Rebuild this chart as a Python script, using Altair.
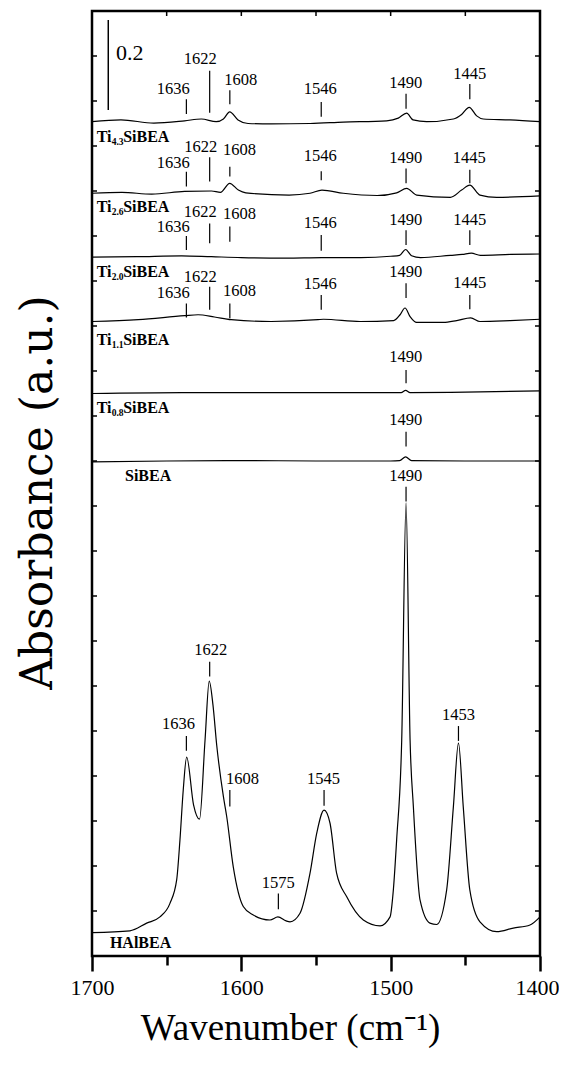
import altair as alt
import pandas as pd

# ---------------- spectra (wavenumber cm-1, absorbance above own baseline) ----------------
WN_HALBEA = [1700, 1674.6, 1663.4, 1654.5, 1647.8, 1643.3, 1641.1, 1638.9, 1636.6, 1632, 1628,
             1624.3, 1621.5, 1619, 1616.5, 1612, 1609.8, 1605.4, 1598.7, 1592, 1580.8, 1575.5,
             1570, 1567.4, 1560.7, 1554, 1549.5, 1544.6, 1540.6, 1536.2, 1529.5, 1518.3, 1507.1,
             1500.4, 1498.2, 1496, 1492.6, 1489.7, 1487, 1484.8, 1480.3, 1473.7, 1469.2, 1462.5,
             1458, 1454.6, 1451.4, 1447, 1440.2, 1429, 1417.9, 1406.7, 1400]
AB_HALBEA = [0.052, 0.056, 0.073, 0.087, 0.117, 0.169, 0.258, 0.369, 0.442, 0.336, 0.304,
             0.480, 0.611, 0.558, 0.469, 0.354, 0.310, 0.198, 0.110, 0.091, 0.080, 0.087,
             0.078, 0.076, 0.095, 0.184, 0.273, 0.324, 0.295, 0.184, 0.132, 0.080, 0.067,
             0.087, 0.147, 0.258, 0.480, 1.007, 0.480, 0.332, 0.124, 0.073, 0.070, 0.147,
             0.332, 0.473, 0.332, 0.147, 0.076, 0.054, 0.062, 0.069, 0.087]

WN_SIBEA = [1700, 1650, 1600, 1550, 1500, 1494, 1490, 1486, 1450, 1400]
AB_SIBEA = [0.000, 0.002, 0.003, 0.002, 0.002, 0.003, 0.011, 0.003, 0.002, 0.002]

WN_TI08 = [1700, 1640, 1580, 1500, 1493, 1490, 1487, 1450, 1400]
AB_TI08 = [0.000, 0.002, 0.002, 0.002, 0.002, 0.007, 0.002, 0.003, 0.006]

WN_TI11 = [1700, 1669, 1638, 1629, 1618, 1606.7, 1580, 1548.7, 1545, 1520.5, 1498, 1493.7,
           1490.4, 1487, 1482.6, 1464.7, 1455.8, 1446.4, 1440.2, 1420, 1400]
AB_TI11 = [0.000, 0.004, 0.013, 0.015, 0.010, 0.004, 0.000, 0.004, 0.005, 0.000, 0.002, 0.015,
           0.030, 0.011, -0.002, -0.002, 0.002, 0.008, 0.000, 0.002, 0.005]

WN_TI20 = [1700, 1670, 1640, 1620, 1600, 1570, 1546, 1520, 1500, 1494, 1490, 1486, 1480,
           1460, 1452, 1446, 1440, 1420, 1400]
AB_TI20 = [0.000, 0.001, 0.003, 0.001, -0.001, -0.002, -0.001, -0.001, 0.002, 0.004, 0.017,
           0.003, -0.001, 0.004, 0.006, 0.009, 0.004, 0.006, 0.007]

WN_TI26 = [1700, 1680, 1660, 1638, 1620, 1614, 1607.8, 1602, 1597, 1568, 1554, 1546, 1531.7,
           1509, 1496, 1489.3, 1482.6, 1460, 1452.5, 1447, 1440.2, 1429, 1400]
AB_TI26 = [0.000, 0.002, -0.002, 0.004, 0.005, 0.002, 0.022, 0.007, 0.001, -0.004, 0.000,
           0.007, 0.000, -0.005, 0.001, 0.011, -0.004, -0.009, 0.007, 0.018, -0.004, -0.009,
           -0.006]

WN_TI43 = [1700, 1680.6, 1658.6, 1638, 1626.8, 1616.8, 1612, 1607.8, 1602.2, 1595.5, 1580,
           1554, 1531.7, 1502.7, 1494.9, 1489.3, 1485, 1475.9, 1458, 1452.5, 1447.4, 1442.4,
           1438, 1420.1, 1400]
AB_TI43 = [0.000, 0.004, -0.003, 0.002, 0.006, 0.000, 0.006, 0.022, 0.004, -0.004, -0.005,
           -0.004, -0.001, 0.002, 0.008, 0.019, 0.004, 0.000, 0.006, 0.016, 0.032, 0.013,
           0.006, 0.004, 0.000]

SAMPLES = ["HAlBEA", "SiBEA", "Ti0.8SiBEA", "Ti1.1SiBEA", "Ti2.0SiBEA", "Ti2.6SiBEA", "Ti4.3SiBEA"]
OFFSETS = [0.000, 1.098, 1.250, 1.410, 1.553, 1.695, 1.854]
SPEC_WN = [WN_HALBEA, WN_SIBEA, WN_TI08, WN_TI11, WN_TI20, WN_TI26, WN_TI43]
SPEC_AB = [AB_HALBEA, AB_SIBEA, AB_TI08, AB_TI11, AB_TI20, AB_TI26, AB_TI43]

# ---------------- peak annotations ----------------
PEAK_TEXT = ["1636", "1622", "1608", "1546", "1490", "1445",
             "1636", "1622", "1608", "1546", "1490", "1445",
             "1636", "1622", "1608", "1546", "1490", "1445",
             "1636", "1622", "1608", "1546", "1490", "1445",
             "1490", "1490",
             "1490", "1622", "1636", "1453", "1608", "1545", "1575"]
PEAK_TICK_WN = [1636.8, 1621.2, 1607.7, 1546.5, 1489.7, 1447.0,
                1636.8, 1621.2, 1607.7, 1546.5, 1489.7, 1447.0,
                1636.8, 1621.2, 1607.7, 1546.5, 1489.7, 1447.0,
                1636.8, 1621.2, 1607.7, 1546.5, 1489.7, 1447.0,
                1489.7, 1489.7,
                1489.7, 1621.2, 1636.8, 1454.6, 1607.7, 1544.6, 1575.2]
PEAK_LABEL_WN = [1645.6, 1627.5, 1600.4, 1547.1, 1489.9, 1447.1,
                 1645.6, 1627.1, 1601.2, 1547.1, 1489.9, 1447.4,
                 1645.6, 1627.5, 1601.2, 1547.1, 1489.9, 1447.1,
                 1645.6, 1627.5, 1601.2, 1547.1, 1489.9, 1447.1,
                 1489.9, 1489.9,
                 1489.9, 1620.4, 1642.1, 1454.6, 1599.2, 1545.0, 1575.2]
PEAK_LABEL_Y = [1.926, 1.993, 1.947, 1.926, 1.939, 1.960,
                1.762, 1.798, 1.791, 1.778, 1.774, 1.773,
                1.621, 1.654, 1.650, 1.630, 1.636, 1.636,
                1.473, 1.508, 1.478, 1.493, 1.521, 1.496,
                1.332, 1.191,
                1.067, 0.680, 0.516, 0.536, 0.393, 0.393, 0.162]
PEAK_TICK_TOP = [1.904, 1.967, 1.924, 1.898, 1.916, 1.938,
                 1.743, 1.775, 1.754, 1.744, 1.750, 1.747,
                 1.600, 1.628, 1.621, 1.602, 1.613, 1.613,
                 1.450, 1.487, 1.450, 1.469, 1.495, 1.469,
                 1.302, 1.165,
                 1.043, 0.654, 0.489, 0.511, 0.369, 0.369, 0.139]
PEAK_TICK_BOTTOM = [1.871, 1.874, 1.893, 1.865, 1.883, 1.904,
                    1.710, 1.721, 1.732, 1.724, 1.717, 1.717,
                    1.569, 1.584, 1.587, 1.567, 1.580, 1.580,
                    1.419, 1.436, 1.417, 1.436, 1.462, 1.437,
                    1.273, 1.132,
                    1.010, 0.621, 0.456, 0.478, 0.332, 0.334, 0.104]

# ---------------- sample labels ----------------
LABEL_MAIN = ["Ti", "Ti", "Ti", "Ti", "Ti", "SiBEA", "HAlBEA"]
LABEL_SUB = ["4.3", "2.6", "2.0", "1.1", "0.8", "", ""]
LABEL_TAIL = ["SiBEA", "SiBEA", "SiBEA", "SiBEA", "SiBEA", "", ""]
LABEL_WN = [1696.9, 1696.9, 1696.9, 1696.9, 1696.9, 1677.9, 1688.0]
LABEL_Y = [1.819, 1.665, 1.521, 1.369, 1.217, 1.067, 0.030]

# scale bar (0.2 absorbance)
BAR_WN = 1689.1
BAR_Y = [1.880, 2.080]
BAR_TEXT = "0.2"
BAR_TEXT_WN = 1683.9
BAR_TEXT_Y = 2.006

X_DOMAIN = [1400, 1700]
Y_DOMAIN = [0, 2.1]
X_TICKS = [1700, 1650, 1600, 1550, 1500, 1450, 1400]
Y_INNER_TICKS = [round(0.1 * i, 1) for i in range(1, 21)]

W, H = 448, 945
SERIF = "Liberation Serif"

rows = []
for name, off, wns, abs_ in zip(SAMPLES, OFFSETS, SPEC_WN, SPEC_AB):
    for i, (w, a) in enumerate(zip(wns, abs_)):
        rows.append({"sample": name, "x": w, "y": off + a, "order": i})
spec_df = pd.DataFrame(rows)

tick_df = pd.DataFrame({"x": PEAK_TICK_WN, "y": PEAK_TICK_TOP, "y2": PEAK_TICK_BOTTOM})
ptext_df = pd.DataFrame({"x": PEAK_LABEL_WN, "y": PEAK_LABEL_Y, "label": PEAK_TEXT})
lab_df = pd.DataFrame({"x": LABEL_WN, "y": LABEL_Y, "main": LABEL_MAIN,
                       "sub": LABEL_SUB, "tail": LABEL_TAIL})
bar_df = pd.DataFrame({"x": [BAR_WN], "y": [BAR_Y[0]], "y2": [BAR_Y[1]]})
bar_text_df = pd.DataFrame({"x": [BAR_TEXT_WN], "y": [BAR_TEXT_Y], "t": [BAR_TEXT]})

# inward frame ticks (left/right every 0.1, top every 50 cm-1)
tick_len_x = 5 * (X_DOMAIN[1] - X_DOMAIN[0]) / W
tick_len_y = 5 * (Y_DOMAIN[1] - Y_DOMAIN[0]) / H
inner = []
for v in Y_INNER_TICKS:
    inner.append({"x": X_DOMAIN[1], "x2": X_DOMAIN[1] - tick_len_x, "y": v, "y2": v})
    inner.append({"x": X_DOMAIN[0], "x2": X_DOMAIN[0] + tick_len_x, "y": v, "y2": v})
for v in X_TICKS[1:-1]:
    inner.append({"x": v, "x2": v, "y": Y_DOMAIN[1], "y2": Y_DOMAIN[1] - tick_len_y})
inner_df = pd.DataFrame(inner)

xscale = alt.Scale(domain=X_DOMAIN, reverse=True, nice=False, zero=False)
yscale = alt.Scale(domain=Y_DOMAIN, nice=False, zero=False)

x_enc = alt.X("x:Q", scale=xscale, title="Wavenumber (cm\u207b\u00b9)",
              axis=alt.Axis(values=X_TICKS, format="d",
                            labelExpr="datum.value % 100 === 0 ? datum.label : ''",
                            tickSize={"condition": {"test": "datum.value % 100 === 0", "value": 15},
                                      "value": 9},
                            labelOffset={"condition": {"test": "datum.value === 1400", "value": -3},
                                         "value": 0},
                            tickWidth=2.5, tickColor="black", domain=False, grid=False,
                            labelFont=SERIF, labelFontSize=22, labelColor="black",
                            labelPadding=6, labelFlush=False,
                            titleFont=SERIF, titleFontSize=37, titleFontWeight="normal",
                            titleColor="black", titlePadding=12, titleX=198))
y_enc = alt.Y("y:Q", scale=yscale, title="Absorbance (a.u.)",
              axis=alt.Axis(labels=False, ticks=False, domain=False, grid=False,
                            titleFont="DejaVu Serif", titleFontSize=44, titleFontWeight="normal",
                            titleColor="black", titlePadding=32, titleY=481))

lines = alt.Chart(spec_df).mark_line(color="black", strokeWidth=1.2, interpolate="monotone").encode(
    x=x_enc, y=y_enc, detail="sample:N", order="order:Q")

inner_ticks = alt.Chart(inner_df).mark_rule(color="black", strokeWidth=1.5).encode(
    x=alt.X("x:Q"), x2="x2:Q", y=alt.Y("y:Q"), y2="y2:Q")

peak_ticks = alt.Chart(tick_df).mark_rule(color="black", strokeWidth=1.2).encode(
    x=alt.X("x:Q"), y=alt.Y("y:Q"), y2="y2:Q")
peak_text = alt.Chart(ptext_df).mark_text(font=SERIF, fontSize=16.5, color="black",
                                          baseline="middle", align="center").encode(
    x=alt.X("x:Q"), y=alt.Y("y:Q"), text="label:N")

bar = alt.Chart(bar_df).mark_rule(color="black", strokeWidth=1.5).encode(
    x=alt.X("x:Q"), y=alt.Y("y:Q"), y2="y2:Q")
bar_text = alt.Chart(bar_text_df).mark_text(font=SERIF, fontSize=22, color="black",
                                            baseline="middle", align="left").encode(
    x=alt.X("x:Q"), y=alt.Y("y:Q"), text="t:N")

lab_main = alt.Chart(lab_df).mark_text(font=SERIF, fontSize=16, fontWeight="bold", color="black",
                                       baseline="middle", align="left").encode(
    x=alt.X("x:Q"), y=alt.Y("y:Q"), text="main:N")
lab_sub = alt.Chart(lab_df).mark_text(font=SERIF, fontSize=9.5, fontWeight="bold", color="black",
                                      baseline="middle", align="left", dx=15, dy=5).encode(
    x=alt.X("x:Q"), y=alt.Y("y:Q"), text="sub:N")
lab_tail = alt.Chart(lab_df).mark_text(font=SERIF, fontSize=16, fontWeight="bold", color="black",
                                       baseline="middle", align="left", dx=26.5).encode(
    x=alt.X("x:Q"), y=alt.Y("y:Q"), text="tail:N")

chart = alt.layer(lines, inner_ticks, peak_ticks, peak_text, bar, bar_text,
                  lab_main, lab_sub, lab_tail).properties(
    width=W, height=H,
    autosize=alt.AutoSizeParams(type="none"),
    padding={"left": 84, "top": 3, "right": 19, "bottom": 102},
    background="white",
).configure_view(stroke="black", strokeWidth=2.5)

chart.save("out.html", embed_options={"renderer": "svg", "actions": False})
